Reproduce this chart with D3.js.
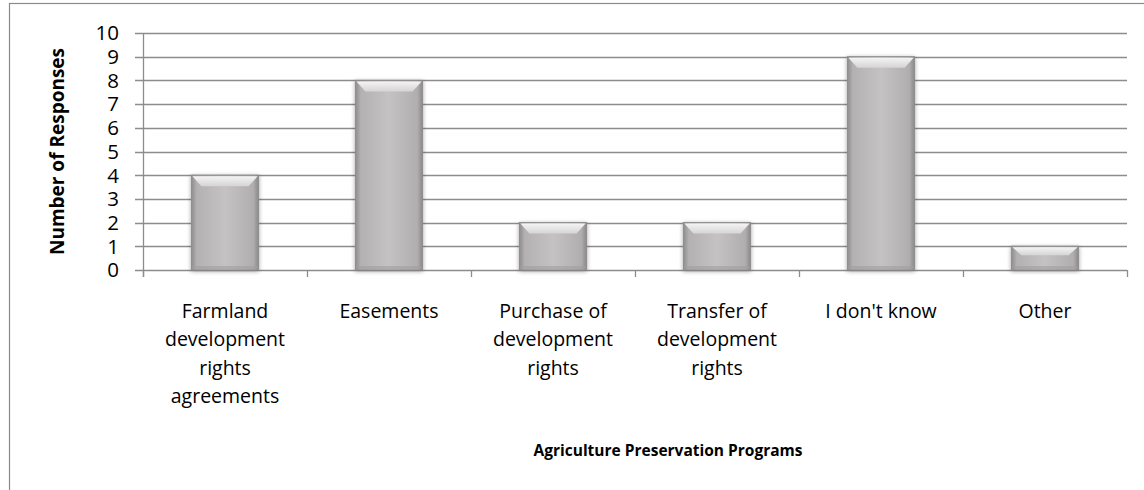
<!DOCTYPE html>
<html><head><meta charset="utf-8">
<script src="https://cdn.jsdelivr.net/npm/d3@7"></script>
<style>body{margin:0;background:#fff;}svg{display:block;font-family:"Open Sans",sans-serif;}</style>
</head><body>
<svg id="c" width="1144" height="490"></svg>
<script>
const categories = [["Farmland","development","rights","agreements"],["Easements"],["Purchase of","development","rights"],["Transfer of","development","rights"],["I don't know"],["Other"]];
const values = [4, 8, 2, 2, 9, 1];
const yTicks = [0,1,2,3,4,5,6,7,8,9,10];
const yTitle = "Number of Responses";
const xTitle = "Agriculture Preservation Programs";

const svg = d3.select("#c");
const m = {l:143, r:1127, t:33, b:270};
const keys = categories.map((c,i)=>i);
const x = d3.scaleBand().domain(keys).range([m.l, m.r]).paddingInner(0.59).paddingOuter(0.295);
const xb = d3.scaleBand().domain(keys).range([m.l, m.r]);
const y = d3.scaleLinear().domain([0,10]).range([m.b, m.t]);

// outer border
svg.append("rect").attr("x",9.5).attr("y",3.5).attr("width",1160).attr("height",520).attr("fill","none").attr("stroke","#8a8a8a").attr("stroke-width",1.2);

const defs = svg.append("defs");
const g = defs.append("linearGradient").attr("id","bar").attr("x1","0").attr("x2","1").attr("y1","0").attr("y2","0");
[[0,"#8e8c8c"],[0.08,"#b3b1b1"],[0.5,"#c4c2c2"],[0.92,"#b0aeae"],[1,"#8a8888"]].forEach(s=>g.append("stop").attr("offset",s[0]).attr("stop-color",s[1]));
const tg = defs.append("linearGradient").attr("id","top").attr("x1","0").attr("x2","0").attr("y1","0").attr("y2","1");
[[0,"#f4f4f4"],[1,"#d6d4d4"]].forEach(s=>tg.append("stop").attr("offset",s[0]).attr("stop-color",s[1]));
const f = defs.append("filter").attr("id","sh").attr("x","-20%").attr("y","-20%").attr("width","140%").attr("height","140%");
f.append("feGaussianBlur").attr("in","SourceAlpha").attr("stdDeviation",2);
f.append("feOffset").attr("dx",0).attr("dy",1).attr("result","b");
f.append("feComponentTransfer").append("feFuncA").attr("type","linear").attr("slope",0.35);
const mg = f.append("feMerge"); mg.append("feMergeNode"); mg.append("feMergeNode").attr("in","SourceGraphic");

// gridlines
svg.append("g").selectAll("line").data(yTicks).join("line")
  .attr("x1",m.l-8).attr("x2",m.r).attr("y1",d=>Math.round(y(d))+0.5).attr("y2",d=>Math.round(y(d))+0.5)
  .attr("stroke","#8c8c8c").attr("stroke-width",1.3);
// y axis line
svg.append("line").attr("x1",m.l+0.5).attr("x2",m.l+0.5).attr("y1",m.t).attr("y2",m.b+7).attr("stroke","#8c8c8c").attr("stroke-width",1.3);
// x ticks
svg.append("g").selectAll("line").data(d3.range(categories.length+1)).join("line")
  .attr("x1",d=>d<categories.length?xb(d)+0.5:m.r+0.5).attr("x2",d=>d<categories.length?xb(d)+0.5:m.r+0.5)
  .attr("y1",m.b).attr("y2",m.b+7).attr("stroke","#8c8c8c").attr("stroke-width",1.3);

// y tick labels
svg.append("g").selectAll("text").data(yTicks).join("text")
  .attr("x",119).attr("y",d=>y(d)).attr("dy","0.36em").attr("text-anchor","end")
  .attr("font-size",20.5).attr("fill","#000").text(d=>d);

// bars
const bars = svg.append("g").selectAll("g").data(values).join("g").attr("filter","url(#sh)");
bars.append("rect").attr("x",(d,i)=>x(i)).attr("width",x.bandwidth())
  .attr("y",d=>y(d)).attr("height",d=>y(0)-y(d)).attr("fill","url(#bar)").attr("stroke","#8e8c8c").attr("stroke-width",1);
bars.append("path").attr("d",(d,i)=>{
  const x0=x(i)+1, x1=x(i)+x.bandwidth()-1, y0=y(d)+1, h=Math.min(10,(y(0)-y(d))/3), k=9;
  return `M${x0},${y0}L${x1},${y0}L${x1-k},${y0+h}L${x0+k},${y0+h}Z`;
}).attr("fill","url(#top)");
bars.append("rect").attr("x",(d,i)=>x(i)+1).attr("width",x.bandwidth()-2)
  .attr("y",d=>y(0)-4).attr("height",3).attr("fill","#a09e9e").attr("opacity",0.6);

// category labels
const cl = svg.append("g").selectAll("text").data(categories).join("text")
  .attr("x",(d,i)=>xb(i)+xb.bandwidth()/2).attr("y",318).attr("text-anchor","middle")
  .attr("font-size",19.5).attr("fill","#000");
cl.selectAll("tspan").data(d=>d).join("tspan")
  .attr("x",function(){return this.parentNode.getAttribute("x");})
  .attr("dy",(d,j)=>j===0?0:"1.45em").text(d=>d);

// titles
svg.append("text").attr("transform",`translate(64,${(m.t+m.b)/2}) rotate(-90)`).attr("text-anchor","middle")
  .attr("font-size",19).attr("font-weight","bold").text(yTitle);
svg.append("text").attr("x",(m.l+m.r)/2+33).attr("y",456).attr("text-anchor","middle")
  .attr("font-size",15.5).attr("font-weight","bold").text(xTitle);
</script>
</body></html>
